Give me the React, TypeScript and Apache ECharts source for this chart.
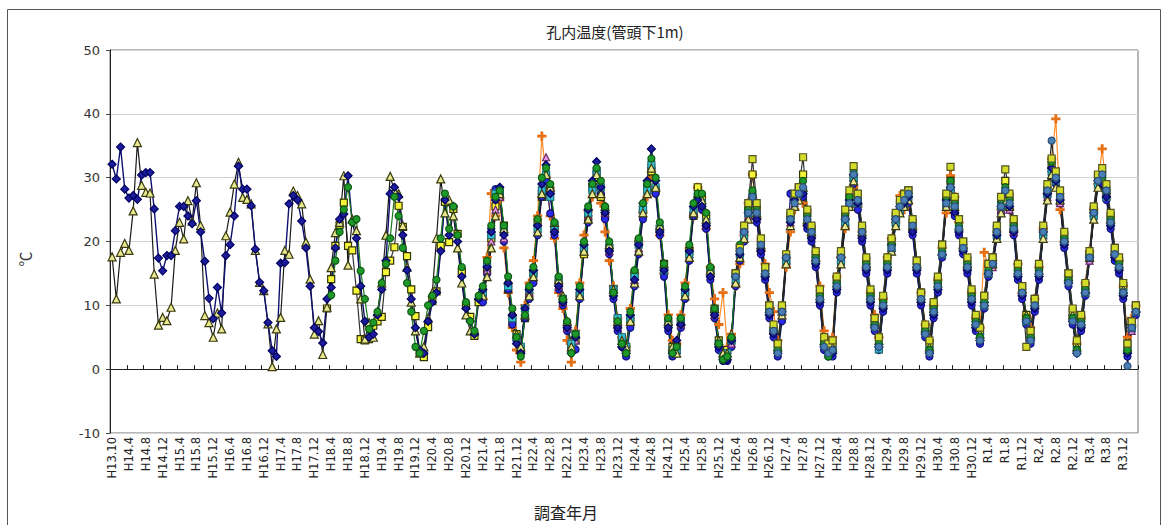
import React, { useEffect, useRef } from "react";
import * as echarts from "echarts";

// ---- categories (survey months) ----
const FIRST_CATS = ["H13.10", "H13.12", "H14.2", "H14.3"];
function buildCats(): string[] {
  const out = [...FIRST_CATS];
  for (let k = 0; k < 240; k++) {
    const m = 14 * 12 + 3 + k;
    const y = Math.floor(m / 12);
    const mo = (m % 12) + 1;
    if (y > 31 || (y === 31 && mo >= 4)) out.push("R" + (y - 30) + "." + mo);
    else out.push("H" + y + "." + mo);
  }
  return out;
}
const CATEGORIES = buildCats();

const Y_MIN = -10;
const Y_MAX = 50;
const Y_STEP = 10;

// ---- series values (℃) ----
const NAVY_DIAMOND = [
  32.1, 29.8, 34.8, 28.2,
  26.8, 27.2, 26.6, 30.4, 30.8, 30.8, 25.1, 17.4, 15.4, 17.8, 17.8, 21.7,
  25.5, 25.5, 24.0, 22.8, 26.4, 21.5, 16.9, 11.1, 7.9, 12.8, 8.8, 17.8,
  19.5, 24.0, 31.8, 28.2, 28.2, 25.6, 18.8, 13.6, 12.3, 7.3, 2.9, 2.0,
  16.6, 16.7, 25.9, 27.2, 26.5, 23.2, 19.0, 13.0, 6.5, 5.9, 4.1, 11.0,
  12.8, 19.0, 23.5, 24.3, 30.3, 23.0, 20.5, 13.0, 7.5, 5.0, 5.5, 8.5,
  12.5, 17.0, 27.5, 28.5, 27.0, 21.0, 15.5, 11.0, 6.5, 3.0, 2.5, 7.5,
  10.5, 12.0, 18.5, 26.5, 21.0, 25.5, 20.0, 14.5, 9.5, 7.5, 5.5, 11.0,
  12.5, 16.0, 21.5, 26.5, 28.5, 21.0, 13.5, 8.5, 4.0, 2.5, 9.5, 12.5,
  15.5, 22.5, 29.0, 32.0, 27.5, 21.5, 13.0, 10.5, 6.5, 2.5, 5.0, 12.5,
  19.5, 25.0, 29.5, 32.5, 28.5, 24.5, 18.5, 11.5, 6.5, 3.5, 2.5, 8.5,
  14.0, 19.5, 26.0, 29.5, 34.5, 29.5, 21.5, 15.5, 6.5, 2.5, 4.5, 7.0,
  12.5, 18.5, 25.5, 26.5, 25.5, 22.5, 14.5, 8.5, 3.5, 1.5, 1.5, 4.5,
  14.5, 18.0, 21.5, 24.5, 26.5, 23.5, 18.5, 14.5, 8.5, 5.5, 2.5, 9.0,
  17.5, 23.0, 26.5, 28.0, 27.5, 22.5, 20.5, 16.5, 10.5, 3.5, 2.5, 2.5,
  12.5, 17.5, 23.5, 26.5, 30.5, 26.0, 20.5, 15.5, 10.5, 6.5, 3.5, 9.5,
  15.5, 19.5, 23.5, 25.5, 26.0, 27.0, 21.5, 15.5, 10.5, 5.5, 2.5, 8.5,
  12.5, 18.0, 26.5, 28.5, 24.5, 21.5, 18.5, 15.5, 10.5, 6.5, 4.5, 10.5,
  15.0, 16.5, 21.0, 25.5, 27.5, 25.5, 21.5, 14.5, 11.5, 7.5, 4.5, 9.5,
  14.5, 21.5, 27.5, 31.5, 29.5, 26.5, 19.5, 13.5, 7.5, 2.5, 6.5, 12.0,
  17.5, 24.5, 29.5, 29.0, 27.0, 22.5, 17.5, 15.5, 11.5, 2.5, 6.5, 9.0,
];

const KHAKI_TRIANGLE = [
  17.6, 11.0, 18.3, 19.7,
  18.6, 24.8, 35.5, 28.8, 27.7, 27.6, 14.9, 6.9, 8.1, 7.6, 9.7, 18.6,
  23.0, 20.4, 26.4, 23.2, 29.2, 22.5, 8.4, 7.3, 5.0, 8.8, 6.3, 20.9,
  24.6, 29.0, 32.4, 26.9, 26.6, 25.9, 18.6, 13.6, 12.3, 7.1, 0.4, 6.3,
  8.1, 18.6, 18.0, 27.9, 27.2, 25.9, 19.9, 14.1, 5.5, 7.6, 2.3, 9.7,
  15.9, 21.4, 23.0, 30.3, 16.3, 23.5, 21.7, 11.0, 4.7, 7.3, 5.0, 9.0,
  13.5, 21.0, 30.2, 28.0, 27.5, 22.5, 16.0, 10.5, 6.0, 2.5, 3.5, 8.0,
  12.0, 20.5, 29.8, 24.5, 26.5, 24.0, 19.0, 13.5, 8.5, 6.0, 6.0, 11.5,
  11.5, 14.5, 19.0, 24.0, 27.5, 22.0, 14.0, 9.0, 5.5, 3.5, 8.5, 11.5,
  14.5, 21.5, 27.5, 30.5, 28.5, 23.0, 14.0, 11.5, 7.5, 3.5, 5.5, 11.5,
  18.5, 23.5, 27.5, 30.5, 27.5, 25.5, 19.5, 12.5, 7.5, 4.5, 3.5, 7.5,
  13.5, 18.5, 24.5, 27.5, 31.5, 28.5, 22.5, 16.5, 7.5, 3.5, 2.5, 7.5,
  11.5, 17.5, 24.5, 27.5, 26.5, 23.5, 15.5, 9.5, 4.5, 2.5, 2.5, 5.5,
  13.5, 17.5, 20.5, 23.5, 27.5, 24.5, 19.5, 15.5, 9.5, 6.5, 3.5, 8.5,
  16.5, 22.5, 25.5, 26.5, 28.5, 23.5, 21.5, 17.5, 11.5, 4.5, 3.5, 3.5,
  13.5, 16.5, 22.5, 25.5, 29.5, 26.5, 21.5, 16.5, 11.5, 7.5, 4.5, 10.5,
  16.5, 18.5, 22.5, 24.5, 25.5, 26.5, 22.5, 16.5, 11.5, 6.5, 3.5, 9.5,
  13.5, 18.5, 25.5, 27.5, 25.5, 22.5, 19.5, 16.5, 11.5, 7.5, 5.5, 10.5,
  15.5, 16.5, 20.5, 24.5, 26.5, 25.5, 22.5, 15.5, 12.5, 8.5, 5.5, 10.5,
  15.5, 20.5, 26.5, 30.5, 28.5, 26.5, 20.5, 14.5, 8.5, 3.5, 7.5, 12.5,
  17.5, 23.5, 28.5, 29.5, 27.5, 23.5, 18.5, 16.5, 12.5, 3.5, 7.5, 9.5,
];

const YELLOW_SQUARE_START = 51;
const YELLOW_SQUARE = [
  9.5, 14.1, 19.3, 22.6, 26.1, 19.3, 18.6, 12.3, 4.7, 4.5, 4.7, 6.8, 7.5,
  8.2, 15.2, 17.0, 19.1, 25.6, 22.3, 17.7, 12.5, 8.3, 2.7, 1.9, 6.6,
  10.7, 12.2, 19.3, 26.2, 19.9, 25.1, 21.2, 15.2, 9.9, 8.2, 5.2, 10.5,
  12.0, 15.5, 20.5, 25.5, 27.0, 22.5, 12.5, 7.5, 5.5, 3.0, 8.0, 11.5,
  15.0, 23.0, 27.0, 30.0, 28.0, 22.0, 13.5, 10.5, 6.5, 3.5, 4.5, 11.5,
  18.0, 23.5, 28.5, 30.0, 27.0, 24.0, 19.0, 12.5, 7.0, 4.5, 3.5, 7.5,
  15.0, 20.0, 25.0, 28.5, 31.0, 28.0, 22.0, 16.5, 7.5, 3.5, 3.5, 7.5,
  12.0, 18.5, 24.0, 28.5, 27.0, 24.0, 15.5, 9.5, 4.5, 2.5, 3.0, 4.5,
  15.0, 19.0, 22.0, 25.0, 30.5, 25.0, 20.0, 16.0, 10.0, 6.0, 4.0, 9.5,
  17.0, 24.0, 27.0, 28.5, 30.5, 24.5, 22.0, 18.0, 12.0, 5.0, 3.5, 4.0,
  14.0, 18.0, 24.0, 27.0, 30.0, 27.0, 22.0, 17.0, 12.0, 8.0, 5.0, 11.0,
  17.0, 20.0, 24.0, 26.0, 27.5, 28.0, 23.0, 17.0, 12.0, 6.5, 4.0, 10.0,
  14.0, 19.5, 27.0, 29.5, 26.5, 23.5, 20.0, 17.0, 12.0, 8.0, 6.0, 11.5,
  16.5, 17.5, 22.0, 26.5, 29.5, 27.0, 23.0, 16.0, 13.0, 8.5, 6.0, 11.0,
  16.0, 22.0, 28.0, 32.0, 30.0, 27.0, 21.0, 15.0, 9.0, 4.0, 8.0, 13.0,
  18.0, 25.0, 30.0, 30.5, 28.0, 24.0, 19.0, 17.0, 13.0, 4.0, 7.5, 10.0,
];

const GREEN_CIRCLE_START = 52;
const GREEN_CIRCLE = [
  11.6, 17.0, 21.5, 25.0, 28.5, 23.0, 23.5, 15.4, 11.0, 6.3, 7.3, 9.0,
  13.5, 16.5, 20.5, 27.0, 24.0, 19.0, 13.5, 9.0, 3.5, 2.5, 6.0, 10.0,
  11.5, 14.0, 20.5, 27.5, 22.0, 25.5, 21.0, 16.0, 10.5, 7.5, 6.0, 11.5,
  13.0, 17.0, 22.5, 27.0, 28.0, 22.5, 14.5, 9.5, 5.0, 2.0, 8.5, 13.0,
  16.0, 23.5, 30.0, 31.5, 29.0, 23.0, 14.5, 11.0, 7.5, 2.5, 5.5, 13.0,
  20.0, 25.5, 29.0, 31.5, 29.5, 25.5, 20.0, 12.0, 7.5, 4.0, 2.5, 9.0,
  15.5, 20.5, 26.0, 29.0, 33.0, 30.0, 23.0, 16.5, 8.0, 2.5, 3.5, 8.0,
  13.0, 19.5, 26.0, 27.5, 27.5, 24.5, 16.0, 9.5, 4.0, 1.5, 2.0, 5.0,
  15.0, 19.5, 22.5, 25.0, 28.0, 25.5, 20.0, 15.5, 9.5, 6.5, 3.0, 9.5,
  18.0, 24.0, 27.5, 28.5, 29.5, 24.0, 22.0, 17.5, 11.5, 4.0, 2.0, 3.0,
  13.5, 18.0, 24.5, 27.0, 31.0, 27.0, 22.0, 16.5, 11.5, 7.0, 4.0, 10.5,
  16.5, 19.5, 24.0, 26.0, 26.5, 27.5, 23.0, 16.5, 11.0, 6.0, 3.0, 9.5,
  13.5, 18.5, 27.0, 29.5, 26.0, 22.5, 19.5, 16.5, 11.5, 7.5, 5.0, 10.5,
  15.5, 17.0, 22.0, 26.5, 28.5, 26.5, 22.5, 15.5, 12.5, 8.0, 5.0, 10.5,
  15.5, 21.5, 28.5, 32.5, 30.0, 27.5, 20.5, 14.0, 8.0, 3.0, 7.5, 12.5,
  18.0, 24.5, 30.0, 30.0, 28.0, 23.5, 18.5, 16.5, 12.0, 3.0, 7.0, 9.5,
];

const LATE_START = 88; // H21.4
const ORANGE_STAR = [
  11.0, 17.5, 27.5, 24.0, 26.5, 19.0, 12.0, 6.5, 3.0, 1.1, 10.0, 13.5,
  17.0, 24.0, 36.5, 30.0, 24.0, 20.5, 12.0, 9.5, 4.5, 1.1, 6.0, 13.5,
  21.0, 24.8, 27.0, 29.5, 26.0, 21.5, 17.0, 13.0, 8.0, 5.0, 3.5, 9.5,
  15.0, 20.0, 24.5, 27.0, 30.0, 28.0, 21.0, 15.0, 8.5, 4.5, 4.0, 8.5,
  13.5, 19.0, 24.0, 28.5, 25.0, 22.0, 16.0, 11.0, 7.0, 12.0, 3.5, 5.5,
  13.0, 16.5, 21.0, 26.0, 30.5, 23.5, 18.5, 16.5, 12.0, 9.0, 4.5, 8.5,
  16.0, 21.5, 25.0, 26.5, 26.0, 22.5, 21.0, 17.0, 13.0, 6.0, 4.5, 5.0,
  14.5, 17.5, 22.0, 25.5, 28.5, 25.5, 21.5, 16.0, 12.0, 8.5, 5.0, 11.0,
  17.5, 20.5, 23.0, 27.2, 25.0, 26.0, 22.0, 16.0, 12.0, 7.0, 4.5, 10.0,
  14.0, 19.0, 24.5, 30.3, 27.0, 23.0, 19.0, 16.0, 12.0, 8.0, 6.5, 18.3,
  16.0, 17.0, 21.5, 25.0, 27.0, 25.0, 21.5, 16.5, 12.0, 8.4, 6.5, 11.0,
  16.0, 22.0, 27.5, 33.0, 39.2, 25.0, 20.0, 14.5, 8.4, 4.0, 8.0, 13.5,
  18.5, 25.0, 29.0, 34.5, 27.5, 23.0, 18.0, 17.0, 13.0, 5.0, 8.0, 9.9,
];

const BLUE_CIRCLE = [
  10.5, 15.0, 22.0, 28.2, 27.5, 20.0, 12.5, 7.0, 4.5, 2.5, 8.0, 11.0,
  13.5, 21.0, 27.0, 29.5, 24.4, 21.0, 12.5, 10.0, 6.0, 3.0, 3.1, 11.0,
  18.5, 23.0, 29.0, 30.9, 27.5, 23.5, 18.0, 11.0, 6.0, 3.5, 2.0, 6.5,
  13.0, 18.0, 23.5, 28.5, 31.5, 27.5, 21.0, 14.5, 6.0, 2.0, 2.5, 6.5,
  11.0, 17.0, 24.0, 26.0, 25.0, 22.0, 14.0, 8.0, 3.0, 1.3, 1.3, 3.5,
  13.0, 17.0, 20.0, 24.0, 26.0, 23.0, 18.0, 14.0, 8.0, 5.0, 2.0, 7.5,
  16.5, 27.5, 26.0, 27.0, 27.0, 22.0, 20.0, 16.0, 10.0, 3.0, 2.0, 2.0,
  12.0, 16.5, 22.5, 25.5, 29.0, 25.0, 20.0, 15.0, 10.0, 6.0, 3.0, 9.0,
  15.0, 18.5, 22.5, 24.5, 25.5, 26.0, 21.0, 15.0, 10.0, 5.0, 2.0, 8.0,
  12.0, 17.5, 25.5, 28.0, 24.0, 21.0, 18.0, 15.0, 10.0, 6.0, 4.0, 9.5,
  14.5, 16.0, 20.5, 24.5, 26.5, 25.0, 21.0, 14.0, 11.0, 7.0, 4.0, 9.0,
  14.0, 21.0, 27.0, 31.0, 29.0, 26.0, 19.0, 13.0, 7.0, 2.5, 6.0, 11.5,
  17.0, 24.0, 29.0, 28.5, 26.5, 22.0, 17.0, 15.0, 11.0, 2.0, 6.0, 8.5,
];

const TEAL_SQUARE = [
  12.0, 16.5, 21.0, 27.5, 28.0, 21.5, 13.0, 8.0, 5.0, 3.5, 9.5, 12.5,
  15.0, 22.0, 28.0, 30.5, 27.0, 22.5, 14.0, 11.0, 7.0, 4.0, 5.5, 12.0,
  19.0, 24.5, 28.0, 31.0, 28.5, 25.0, 19.0, 12.5, 8.0, 5.0, 3.5, 8.0,
  14.5, 19.5, 25.0, 28.0, 32.0, 28.5, 22.0, 15.5, 7.0, 3.0, 3.0, 7.5,
  12.0, 18.0, 25.0, 27.0, 26.0, 23.0, 15.0, 9.0, 4.0, 2.0, 2.5, 4.5,
  14.0, 18.0, 21.0, 24.5, 27.0, 24.0, 19.0, 15.0, 9.0, 6.0, 3.0, 9.0,
  17.0, 23.5, 26.5, 27.5, 28.0, 23.0, 21.0, 17.0, 11.0, 4.0, 3.0, 3.0,
  13.0, 17.0, 23.0, 26.0, 30.0, 26.0, 21.0, 16.0, 11.0, 7.0, 3.1, 10.0,
  16.0, 19.0, 23.0, 25.0, 26.0, 27.0, 22.0, 16.0, 11.0, 6.0, 3.0, 9.0,
  13.0, 18.0, 26.0, 28.0, 25.0, 22.0, 19.0, 16.0, 11.0, 7.0, 5.0, 10.0,
  15.0, 16.5, 21.0, 25.5, 27.5, 25.5, 22.0, 15.0, 12.0, 7.5, 5.0, 10.0,
  15.0, 21.0, 27.5, 31.0, 29.5, 26.5, 20.0, 14.0, 8.0, 3.0, 7.0, 12.0,
  17.5, 24.0, 29.0, 29.0, 27.0, 23.0, 18.0, 16.0, 12.0, 3.0, 6.5, 9.0,
];

const PINK_TRIANGLE = [
  11.5, 15.5, 20.0, 25.0, 27.0, 20.5, 13.5, 8.0, 5.0, 3.0, 9.0, 12.0,
  14.5, 22.0, 28.5, 33.2, 28.5, 22.0, 13.0, 10.5, 6.5, 3.0, 4.5, 12.0,
  19.5, 24.0, 28.5, 31.5, 27.5, 24.5, 18.5, 12.0, 7.0, 4.0, 3.0, 8.5,
  14.0, 19.0, 25.5, 28.0, 32.5, 29.0, 22.0, 15.5, 7.5, 3.0, 3.5, 7.0,
  12.5, 18.0, 25.0, 27.5, 26.5, 23.0, 15.0, 8.5, 4.0, 2.0, 2.0, 4.0,
  14.0, 18.5, 21.0, 24.0, 27.5, 24.0, 19.5, 15.0, 9.0, 6.0, 3.5, 9.0,
  17.0, 23.0, 26.0, 27.5, 28.5, 23.0, 21.0, 17.5, 11.0, 4.0, 3.0, 3.5,
  13.0, 17.5, 23.0, 26.5, 30.0, 26.0, 21.5, 16.0, 11.0, 7.0, 4.0, 10.0,
  16.0, 19.0, 23.5, 25.0, 26.0, 27.5, 22.0, 16.5, 11.0, 6.0, 3.0, 9.5,
  13.0, 18.5, 26.0, 28.5, 25.0, 22.5, 19.0, 16.0, 11.5, 7.0, 5.0, 10.0,
  15.0, 16.0, 21.5, 25.0, 27.0, 25.0, 21.5, 15.0, 12.0, 8.0, 5.5, 10.0,
  15.5, 21.0, 27.0, 31.5, 30.0, 26.0, 20.0, 14.5, 8.0, 3.0, 7.0, 12.0,
  17.0, 24.5, 29.0, 30.0, 28.5, 23.0, 18.5, 16.0, 12.0, 3.0, 6.0, 9.0,
];

const RECENT_START = 148; // H26.4
const LIME_SQUARE = [
  15.0, 19.0, 22.5, 26.0, 32.9, 26.0, 20.5, 16.0, 10.0, 7.0, 4.0, 10.0,
  18.0, 24.5, 27.5, 28.5, 33.2, 25.0, 22.5, 18.5, 12.5, 5.0, 4.0, 4.5,
  14.5, 18.5, 25.0, 28.0, 31.8, 27.5, 22.5, 17.5, 12.5, 8.0, 5.0, 11.5,
  17.5, 20.5, 24.5, 26.5, 27.4, 28.0, 23.5, 17.0, 12.0, 7.0, 4.5, 10.5,
  14.5, 19.5, 27.5, 31.7, 27.0, 23.5, 20.0, 17.5, 12.5, 8.5, 6.5, 11.5,
  16.5, 17.5, 22.5, 27.0, 31.3, 27.5, 23.5, 16.5, 13.0, 3.5, 6.0, 11.0,
  16.5, 22.5, 29.0, 33.0, 31.0, 28.0, 21.5, 15.0, 9.5, 4.5, 8.5, 13.5,
  18.5, 25.5, 30.5, 31.5, 29.0, 24.5, 19.0, 17.5, 13.5, 4.0, 7.5, 10.0,
];

const STEEL_CIRCLE = [
  14.5, 18.5, 21.5, 24.5, 27.0, 24.5, 19.5, 15.0, 9.0, 6.0, 2.5, 9.0,
  17.5, 23.5, 26.0, 27.5, 28.5, 23.5, 21.5, 17.0, 11.0, 3.5, 2.5, 3.0,
  13.0, 17.5, 23.5, 26.0, 30.5, 26.5, 21.5, 16.0, 11.0, 6.5, 3.5, 10.0,
  16.0, 19.0, 23.5, 25.5, 26.5, 27.5, 22.5, 16.0, 11.0, 5.5, 2.5, 9.0,
  13.0, 18.0, 26.0, 28.5, 25.5, 22.0, 19.0, 16.0, 11.0, 7.0, 4.5, 10.0,
  15.0, 16.5, 21.5, 25.5, 28.0, 26.0, 22.0, 15.0, 12.0, 7.5, 4.5, 10.0,
  15.0, 21.5, 28.0, 35.8, 30.0, 27.0, 20.0, 13.5, 7.5, 2.5, 7.0, 12.0,
  17.5, 24.5, 29.5, 30.5, 28.0, 23.0, 18.0, 16.0, 12.0, 0.5, 6.5, 9.0,
];

function pad(start: number, vals: number[]): (number | null)[] {
  const out: (number | null)[] = [];
  for (let i = 0; i < start; i++) out.push(null);
  return out.concat(vals);
}

const PLUS = "path://M4,0H6V4H10V6H6V10H4V6H0V4H4Z";

function mk(name: string, data: (number | null)[], symbol: string, size: number,
  fill: string, border: string, line: string, lw = 1) {
  return {
    name, type: "line", data, symbol, symbolSize: size, connectNulls: false,
    showSymbol: true, showAllSymbol: true,
    lineStyle: { color: line, width: lw },
    itemStyle: { color: fill, borderColor: border, borderWidth: 1.2 },
    emphasis: { disabled: true },
  };
}

export default function App() {
  const ref = useRef<HTMLDivElement>(null);
  useEffect(() => {
    if (!ref.current) return;
    const chart = echarts.init(ref.current, undefined, { renderer: "svg" });
    const numFont = "DejaVu Sans";
    const jpFont = "Noto Sans CJK JP";
    chart.setOption({
      animation: false,
      backgroundColor: "#ffffff",
      grid: { left: 110, right: 38, top: 50, bottom: 92, show: true, borderColor: "#707070", borderWidth: 1 },
      xAxis: {
        type: "category",
        data: CATEGORIES,
        boundaryGap: true,
        axisLine: { onZero: true, lineStyle: { color: "#222", width: 1 } },
        axisTick: { show: true, inside: true, length: 4, interval: (i: number) => i % 4 === 0, lineStyle: { color: "#222" } },
        axisLabel: {
          interval: (i: number) => i % 4 === 0,
          rotate: 90, margin: 4, fontSize: 11.5, color: "#222", fontFamily: numFont,
        },
        splitLine: { show: false },
      },
      yAxis: {
        type: "value",
        min: Y_MIN, max: Y_MAX, interval: Y_STEP,
        axisLine: { show: true, lineStyle: { color: "#222" } },
        axisTick: { show: true, length: 4, lineStyle: { color: "#444" } },
        axisLabel: { fontSize: 13, color: "#333", margin: 10, fontFamily: numFont },
        splitLine: { show: true, lineStyle: { color: "#d2d2d2", width: 1 } },
      },
      graphic: [
        { type: "rect", shape: { x: 7.5, y: 9.5, width: 1153, height: 540 }, style: { fill: "none", stroke: "#555", lineWidth: 1 }, silent: true },
        { type: "text", x: 615, y: 31, style: { text: "孔内温度(管頭下1m)", fontSize: 15, fontFamily: jpFont, fill: "#222", textAlign: "center", textVerticalAlign: "middle" } },
        { type: "text", x: 566, y: 512, style: { text: "調査年月", fontSize: 16, fontFamily: jpFont, fill: "#222", textAlign: "center", textVerticalAlign: "middle" } },
        { type: "text", x: 24, y: 259, rotation: Math.PI / 2, style: { text: "℃", fontSize: 15, fontFamily: jpFont, fill: "#333", textAlign: "center", textVerticalAlign: "middle" } },
      ],
      series: [
        mk("orange", pad(LATE_START, ORANGE_STAR), PLUS, 8, "#ff7f1e", "#e06a10", "#ff8c2a", 1.2),
        mk("yellow", pad(YELLOW_SQUARE_START, YELLOW_SQUARE), "rect", 7, "#f5f53a", "#333300", "#333", 1.2),
        mk("blue", pad(LATE_START, BLUE_CIRCLE), "circle", 7, "#2a2ae8", "#101070", "#1a1a7a", 1.2),
        mk("pink", pad(LATE_START, PINK_TRIANGLE), "triangle", 7, "#e59ae5", "#6a2a6a", "#333", 1.2),
        mk("teal", pad(LATE_START, TEAL_SQUARE), "rect", 7, "#35c4d4", "#1d6f7a", "#222", 1.2),
        mk("khaki", KHAKI_TRIANGLE, "triangle", 8, "#e8e890", "#3a3a10", "#1a1a1a", 1.2),
        mk("navy", NAVY_DIAMOND, "diamond", 8, "#1c1c9c", "#000060", "#10106e", 1.4),
        mk("green", pad(GREEN_CIRCLE_START, GREEN_CIRCLE), "circle", 7, "#1f9a2a", "#0d5a12", "#1a7a20", 1.2),
        mk("lime", pad(RECENT_START, LIME_SQUARE), "rect", 7, "#d4dc2a", "#555522", "#333", 1.2),
        mk("steel", pad(RECENT_START, STEEL_CIRCLE), "circle", 7, "#4a7fb5", "#2a4f7a", "#222", 1.2),
      ],
    });
    return () => chart.dispose();
  }, []);
  return (
    <div style={{ position: "fixed", left: 0, top: 0, width: 1176, height: 525, background: "#fff" }}>
      <div ref={ref} style={{ width: 1176, height: 525 }} />
    </div>
  );
}
